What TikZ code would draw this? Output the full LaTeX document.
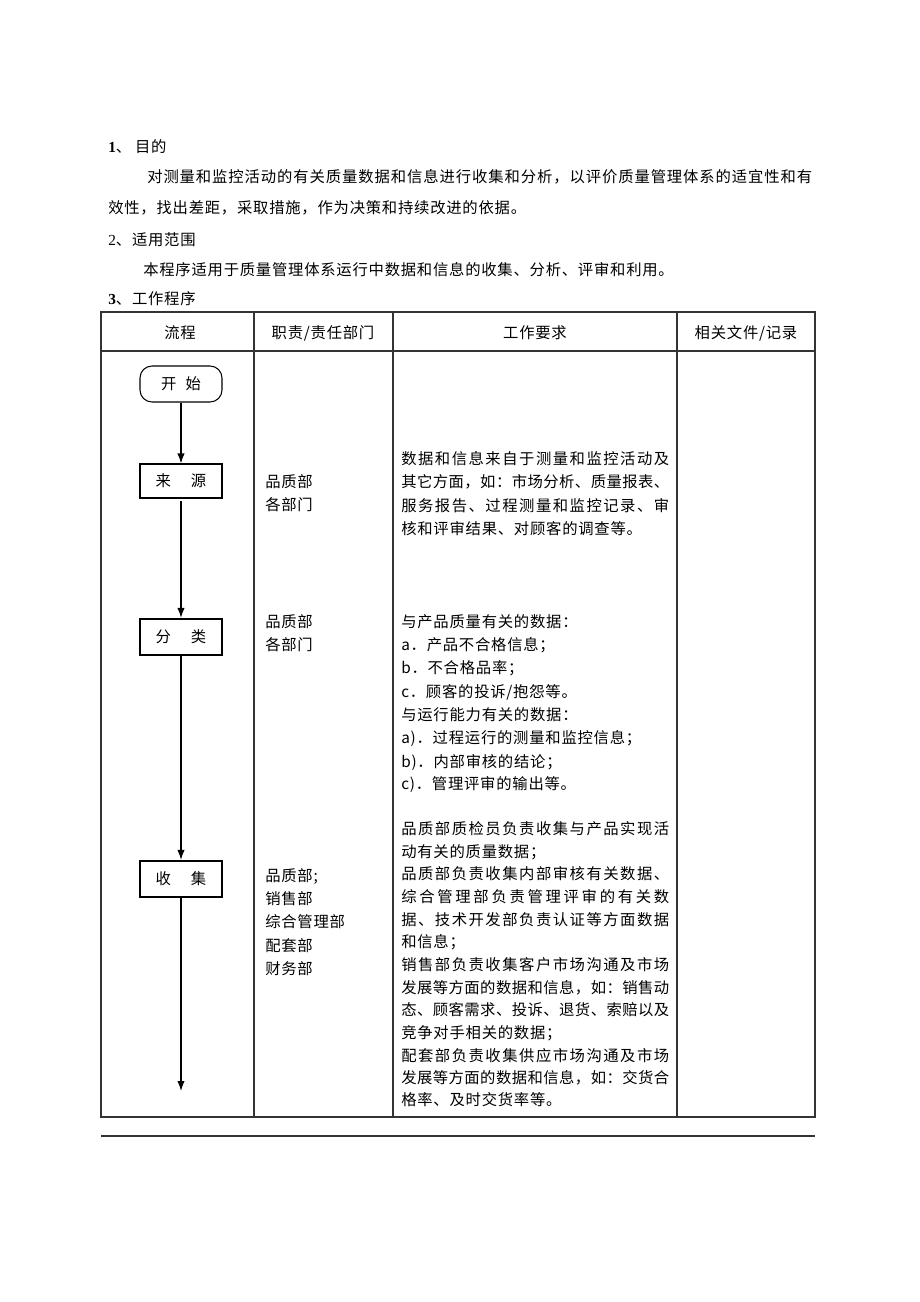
\documentclass[tikz,border=0pt]{standalone}
\usepackage{fontspec}
\setmainfont{Liberation Serif}
\newfontfamily\cjk[LetterSpace=5]{Noto Sans CJK SC}
\usetikzlibrary{arrows.meta}
\def\mkjl#1#2{\makebox[#1][l]{\mkjlA#2\relax}}
\def\mkjlA#1{#1\mkjlB}
\def\mkjlB#1{\ifx#1\relax\else\hfill#1\expandafter\mkjlB\fi}
\tikzset{
  txt/.style={inner sep=0pt, anchor=west, font=\cjk\fontsize{11.5}{14}\selectfont},
  hdr/.style={inner sep=0pt, font=\cjk\fontsize{11.5}{14}\selectfont},
  tbl/.style={draw=black!80, line width=0.85pt},
  boxlbl/.style={font=\cjk\fontsize{11.5}{14}\selectfont, inner sep=0pt},
  startbox/.style={boxlbl, draw, line width=0.8pt, rounded corners=9pt, minimum width=61.5pt, minimum height=27pt},
  procbox/.style={boxlbl, draw, line width=0.8pt, minimum width=61.5pt, minimum height=25.5pt},
  procboxb/.style={boxlbl, draw, line width=1.6pt, minimum width=61.5pt, minimum height=27pt},
  arr/.style={line width=0.9pt, -{Latex[length=7.5pt,width=5.5pt]}},
}
\begin{document}
\begin{tikzpicture}[x=0.75pt, y=-0.75pt]
\useasboundingbox (0,0) rectangle (920,1302);
\fill[white] (0,0) rectangle (920,1302);

% top text
\node[txt] (h1) at (108,147) {{\rmfamily\bfseries 1}、\hspace{0.25em}目的};
\node[txt] (p1a) at (147,177) {\mkjl{498.75pt}{对测量和监控活动的有关质量数据和信息进行收集和分析，以评价质量管理体系的适宜性和有}};
\node[txt] (p1b) at (108,208) {效性，找出差距，采取措施，作为决策和持续改进的依据。};
\node[txt] (h2) at (108,240) {{\rmfamily 2}、适用范围};
\node[txt] (p2) at (143,270) {本程序适用于质量管理体系运行中数据和信息的收集、分析、评审和利用。};
\node[txt] (h3) at (108,299) {{\rmfamily\bfseries 3}、工作程序};

% table
\draw[tbl] (101,312) rectangle (815,1117);
\draw[tbl] (101,351) -- (815,351);
\draw[tbl] (254,312) -- (254,1117);
\draw[tbl] (393,312) -- (393,1117);
\draw[tbl] (677,312) -- (677,1117);
\draw[tbl] (101,1136) -- (815,1136);

\node[hdr] (c1) at (180,333) {流程};
\node[hdr] (c2) at (323,333) {职责/责任部门};
\node[hdr] (c3) at (535,333) {工作要求};
\node[hdr] (c4) at (746,333) {相关文件/记录};

% flow
\node[startbox] (start) at (181,384) {开\hspace{0.6em}始};
\node[procbox] (src) at (181,481) {来\hspace{1.3em}源};
\node[procboxb] (cls) at (181,637) {分\hspace{1.3em}类};
\node[procboxb] (col) at (181,879) {收\hspace{1.3em}集};
\coordinate (end) at (181,1091);
\draw[arr] (start) -- (src);
\draw[arr, shorten <=2pt] (src) -- (cls);
\draw[arr] (cls) -- (col);
\draw[arr] (col) -- (end);

% column 2
\node[txt] (r1a) at (265,482) {品质部};
\node[txt] (r1b) at (265,505) {各部门};
\node[txt] (r2a) at (265,622) {品质部};
\node[txt] (r2b) at (265,645) {各部门};
\node[txt] (r3a) at (265,876) {品质部;};
\node[txt] (r3b) at (265,899) {销售部};
\node[txt] (r3c) at (265,922) {综合管理部};
\node[txt] (r3d) at (265,946) {配套部};
\node[txt] (r3e) at (265,969) {财务部};

% column 3 block 1
\node[txt] (w1a) at (401,459) {\mkjl{201pt}{数据和信息来自于测量和监控活动及}};
\node[txt] (w1b) at (401,482) {\mkjl{201pt}{其它方面，如：市场分析、质量报表、}};
\node[txt] (w1c) at (401,506) {\mkjl{201pt}{服务报告、过程测量和监控记录、审}};
\node[txt] (w1d) at (401,529) {核和评审结果、对顾客的调查等。};

% block 2
\node[txt] (w2a) at (401,622) {与产品质量有关的数据：};
\node[txt] (w2b) at (401,645) {a．产品不合格信息；};
\node[txt] (w2c) at (401,668) {b．不合格品率；};
\node[txt] (w2d) at (401,692) {c．顾客的投诉/抱怨等。};
\node[txt] (w2e) at (401,715) {与运行能力有关的数据：};
\node[txt] (w2f) at (401,738) {a)．过程运行的测量和监控信息；};
\node[txt] (w2g) at (401,762) {b)．内部审核的结论；};
\node[txt] (w2h) at (401,785) {c)．管理评审的输出等。};

% block 3
\node[txt] (w3a) at (401,829) {\mkjl{201pt}{品质部质检员负责收集与产品实现活}};
\node[txt] (w3b) at (401,852) {动有关的质量数据；};
\node[txt] (w3c) at (401,874) {\mkjl{201pt}{品质部负责收集内部审核有关数据、}};
\node[txt] (w3d) at (401,897) {\mkjl{201pt}{综合管理部负责管理评审的有关数}};
\node[txt] (w3e) at (401,920) {\mkjl{201pt}{据、技术开发部负责认证等方面数据}};
\node[txt] (w3f) at (401,942) {和信息；};
\node[txt] (w3g) at (401,965) {\mkjl{201pt}{销售部负责收集客户市场沟通及市场}};
\node[txt] (w3h) at (401,988) {\mkjl{201pt}{发展等方面的数据和信息，如：销售动}};
\node[txt] (w3i) at (401,1010) {\mkjl{201pt}{态、顾客需求、投诉、退货、索赔以及}};
\node[txt] (w3j) at (401,1033) {竞争对手相关的数据；};
\node[txt] (w3k) at (401,1056) {\mkjl{201pt}{配套部负责收集供应市场沟通及市场}};
\node[txt] (w3l) at (401,1078) {\mkjl{201pt}{发展等方面的数据和信息，如：交货合}};
\node[txt] (w3m) at (401,1100) {格率、及时交货率等。};
\end{tikzpicture}
\end{document}
